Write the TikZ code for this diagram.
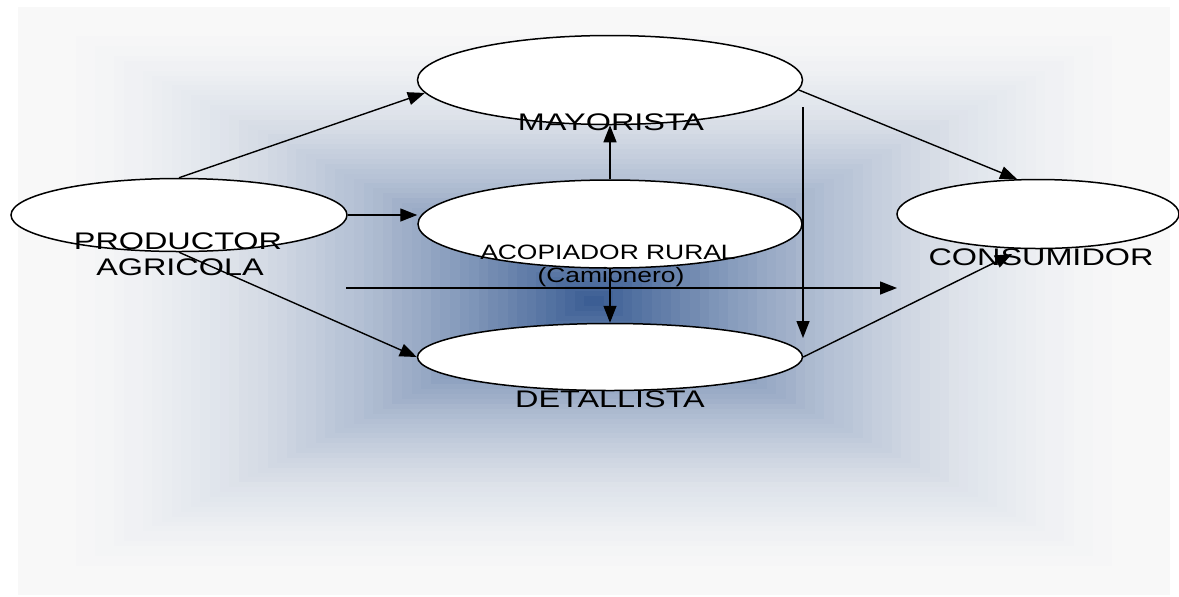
\documentclass[tikz,border=0pt]{standalone}
\usepackage{fontspec}
\setmainfont{Liberation Sans}
\usetikzlibrary{shapes.geometric,arrows.meta}
\definecolor{cdark}{RGB}{52,88,144}
\definecolor{cedge}{RGB}{248,248,248}
\begin{document}
\begin{tikzpicture}[x=0.5pt,y=-0.5pt,
  oval/.style={draw=black,line width=0.75pt,fill=white,ellipse,inner sep=0pt},
  conn/.style={draw=black,line width=0.7pt,-{Triangle[length=8.5pt,width=6.5pt]}},
  lbl/.style={anchor=base,inner sep=0pt,font=\fontsize{12}{14}\selectfont},
  lbls/.style={anchor=base,inner sep=0pt,font=\fontsize{10.4}{12}\selectfont}]
\useasboundingbox (0,0) rectangle (1179,596);
\fill[white] (0,0) rectangle (1179,596);
\foreach \i in {0,...,59}{
  \pgfmathsetmacro{\s}{1-\i/60}
  \pgfmathtruncatemacro{\f}{100*(\i/60)^1.9}
  \fill[cdark!\f!cedge] ({594-576*\s},{301-294*\s}) rectangle ({594+576*\s},{301+294*\s});
}
% ellipses
\node[oval,minimum width=168pt,minimum height=36.5pt] (prod) at (179,215) {};
\node[oval,minimum width=192.5pt,minimum height=44.5pt] (may) at (610,80) {};
\node[oval,minimum width=192pt,minimum height=44pt] (aco) at (610,224) {};
\node[oval,minimum width=192.5pt,minimum height=33.5pt] (det) at (610,357) {};
\node[oval,minimum width=141pt,minimum height=34.5pt] (cons) at (1038,214) {};
% texts
\node[lbl] (tprod1) at (178,249) {\scalebox{1.35}[1]{PRODUCTOR}};
\node[lbl] (tprod2) at (180,275) {\scalebox{1.35}[1]{AGRICOLA}};
\node[lbl] (tmay) at (611,130) {\scalebox{1.35}[1]{MAYORISTA}};
\node[lbls] (taco1) at (608,259) {\scalebox{1.27}[1]{ACOPIADOR RURAL}};
\node[lbls] (taco2) at (611,282) {\scalebox{1.27}[1]{(Camionero)}};
\node[lbl] (tcons) at (1041,265) {\scalebox{1.35}[1]{CONSUMIDOR}};
\node[lbl] (tdet) at (610,407) {\scalebox{1.35}[1]{DETALLISTA}};
% free ends
\coordinate (h1) at (346,288);
\coordinate (h2) at (897,288);
\coordinate (v1) at (803,107);
\coordinate (v2) at (803,338);
\coordinate (c9) at (1012,254);
% connectors
\draw[conn] (prod.north) -- (may.184);
\draw[conn] (prod.east) -- (prod.east -| aco.west);
\draw[conn] (prod.south) -- (det.west);
\draw[conn] (aco.north) -- (aco.north |- may.south);
\draw[conn] (aco.south) -- (aco.south |- det.north);
\draw[conn] (h1) -- (h2);
\draw[conn] (v1) -- (v2);
\draw[conn] (may.-3) -- (cons.121);
\draw[conn] (det.east) -- (c9);
\end{tikzpicture}
\end{document}
